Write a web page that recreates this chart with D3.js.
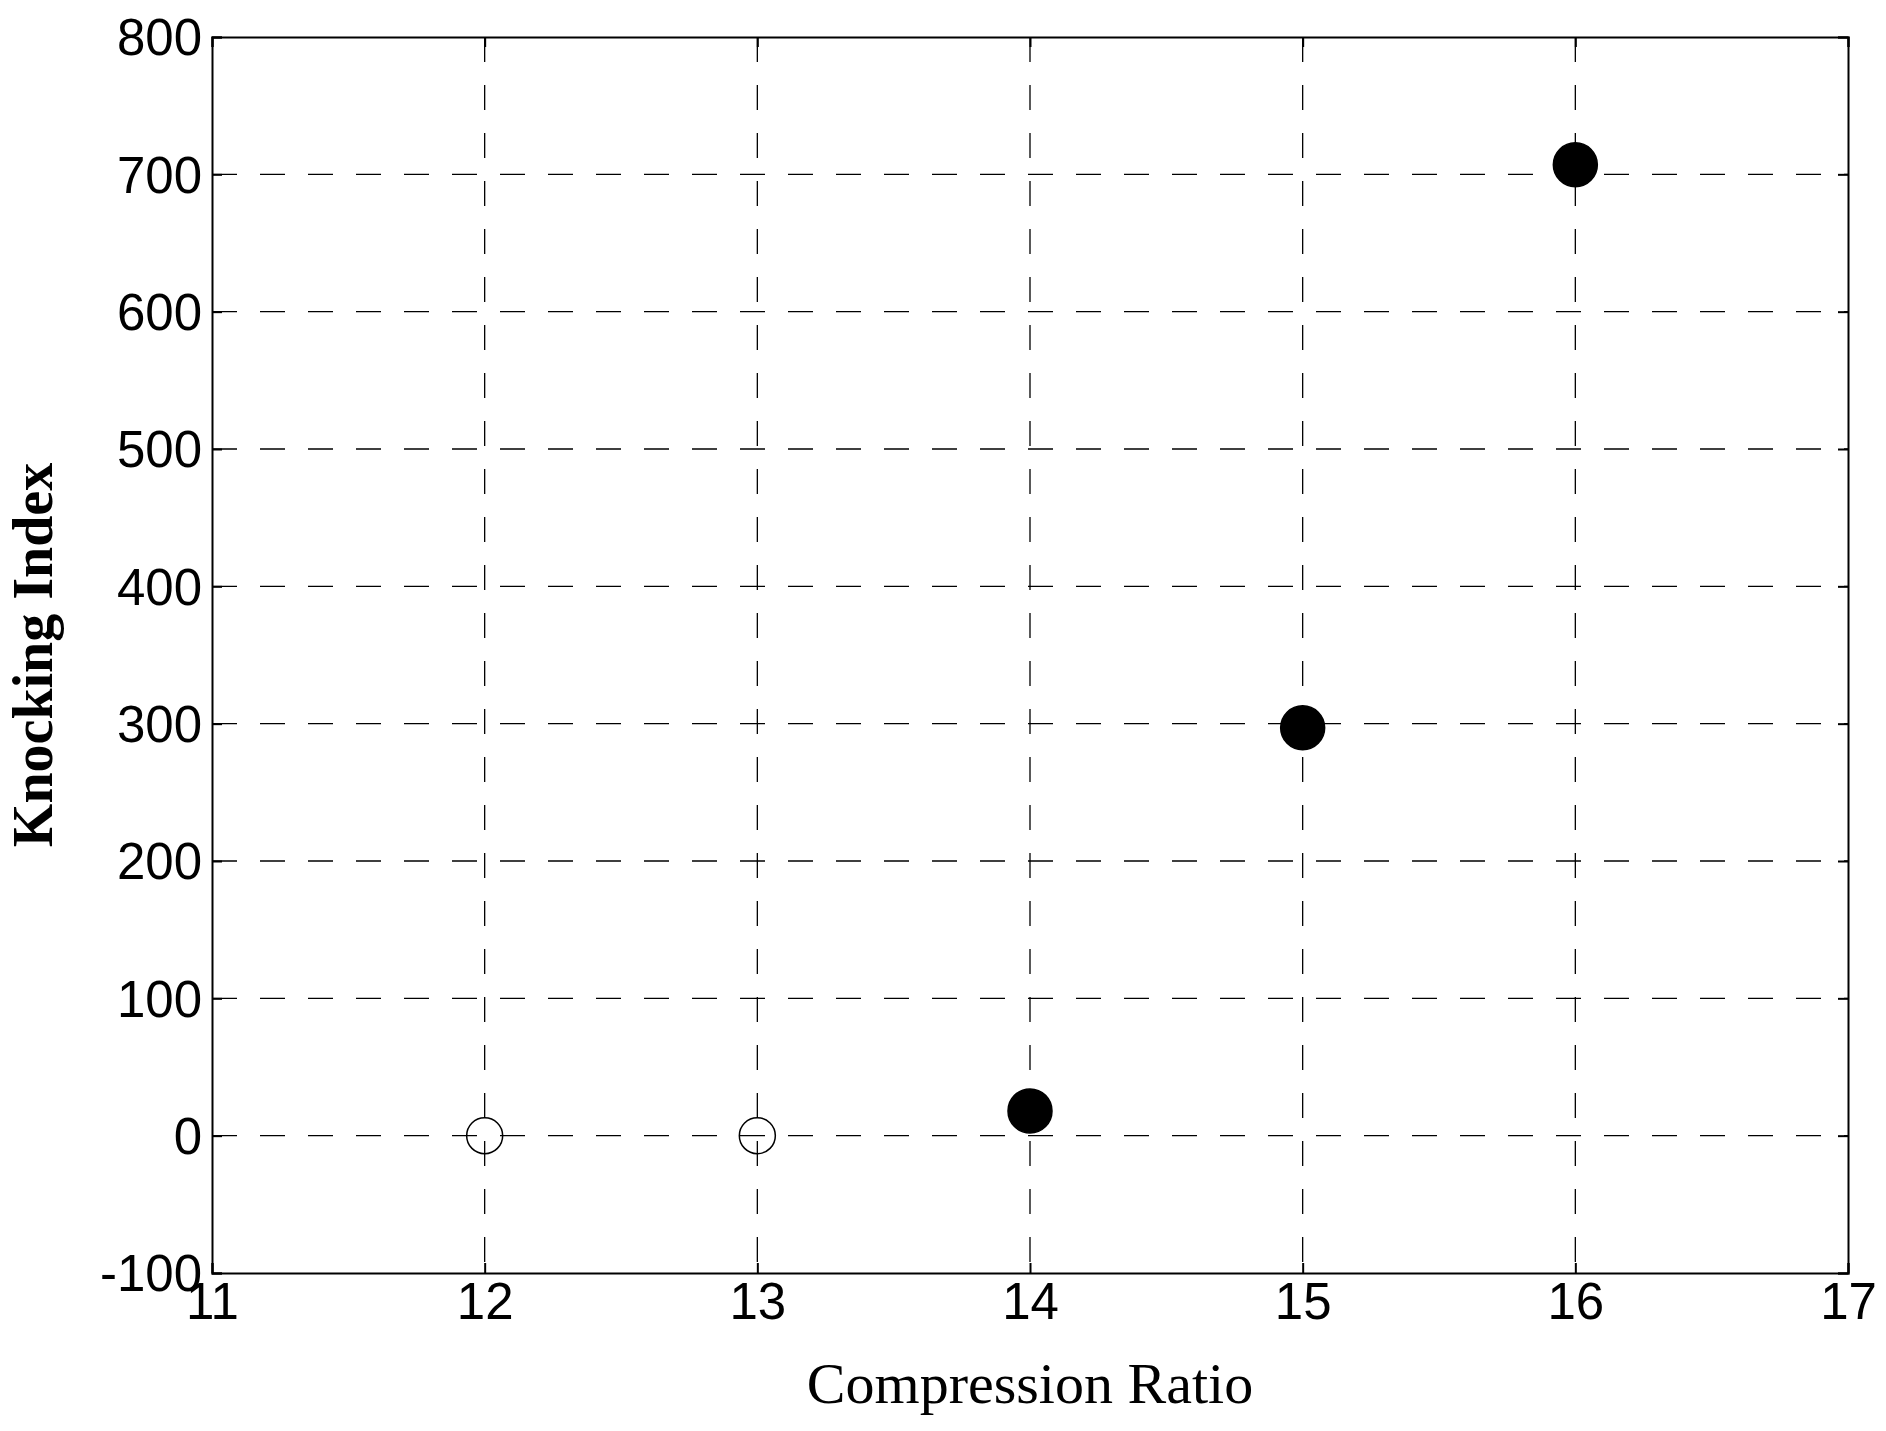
<!DOCTYPE html>
<html><head><meta charset="utf-8">
<script src="https://cdn.jsdelivr.net/npm/d3@7"></script>
<style>body{margin:0;background:#fff}</style></head>
<body><svg id="chart" width="1886" height="1431"></svg>
<script>
// compression ratio vs knocking index
const ratios = [12, 13, 14, 15, 16];
const knockValues = [0, 0, 18, 297, 707];
const knocked = [false, false, true, true, true];
const xTicks = [11, 12, 13, 14, 15, 16, 17];
const yTicks = [-100, 0, 100, 200, 300, 400, 500, 600, 700, 800];

const svg = d3.select("#chart");
const m = {left: 212, right: 1848, top: 37, bottom: 1273};
const x = d3.scaleLinear().domain([11, 17]).range([m.left, m.right]);
const y = d3.scaleLinear().domain([-100, 800]).range([m.bottom, m.top]);
const fmt = d => String(d);

// dashed grid
svg.append("g").selectAll("line").data(xTicks.slice(1, -1)).join("line")
  .attr("x1", d => x(d)).attr("x2", d => x(d)).attr("y1", m.top).attr("y2", m.bottom)
  .attr("stroke", "#000").attr("stroke-width", 1.3).attr("stroke-dasharray", "25,23");
svg.append("g").selectAll("line").data(yTicks.slice(1, -1)).join("line")
  .attr("y1", d => y(d)).attr("y2", d => y(d)).attr("x1", m.left).attr("x2", m.right)
  .attr("stroke", "#000").attr("stroke-width", 1.3).attr("stroke-dasharray", "25,23");

// axes with inward ticks
const font = "Arial, 'Liberation Sans', sans-serif";
const xAxis = svg.append("g").attr("transform", `translate(0,${m.bottom})`)
  .call(d3.axisBottom(x).tickValues(xTicks).tickSize(-10).tickPadding(10).tickFormat(fmt));
const yAxis = svg.append("g").attr("transform", `translate(${m.left},0)`)
  .call(d3.axisLeft(y).tickValues(yTicks).tickSize(-10).tickPadding(10).tickFormat(fmt));
svg.append("g").attr("transform", `translate(0,${m.top})`)
  .call(d3.axisTop(x).tickValues(xTicks).tickSize(-10).tickFormat(""));
svg.append("g").attr("transform", `translate(${m.right},0)`)
  .call(d3.axisRight(y).tickValues(yTicks).tickSize(-10).tickFormat(""));
svg.selectAll(".domain, .tick line").attr("stroke", "#000").attr("stroke-width", 2);
svg.selectAll(".tick text").attr("font-family", font).attr("font-size", 51).attr("fill", "#000");
yAxis.selectAll(".tick text").attr("dy", "0.35em");

// points
svg.append("g").selectAll("circle").data(ratios).join("circle")
  .attr("cx", d => x(d)).attr("cy", (d, i) => y(knockValues[i]))
  .attr("r", (d, i) => knocked[i] ? 22 : 18)
  .attr("fill", (d, i) => knocked[i] ? "#000" : "none")
  .attr("stroke", "#000").attr("stroke-width", 1.5);

// labels
svg.append("text").attr("x", (m.left + m.right) / 2).attr("y", 1403)
  .attr("text-anchor", "middle").attr("font-family", "'Liberation Serif', 'Times New Roman', serif")
  .attr("font-size", 58).text("Compression Ratio");
svg.append("text").attr("transform", `translate(52,${(m.top + m.bottom) / 2}) rotate(-90)`)
  .attr("text-anchor", "middle").attr("font-family", "'Liberation Serif', 'Times New Roman', serif")
  .attr("font-weight", "bold").attr("font-size", 56).text("Knocking Index");
</script></body></html>
